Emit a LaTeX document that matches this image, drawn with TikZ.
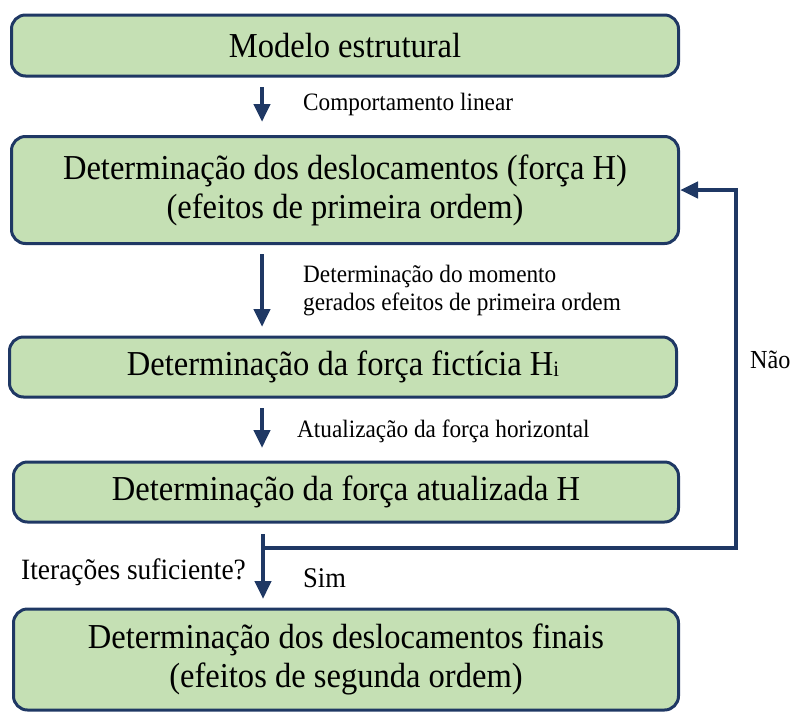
\documentclass[tikz,border=0pt]{standalone}
\usepackage{fontspec}
\setmainfont{Liberation Serif}[FakeStretch=0.93]
\usetikzlibrary{arrows.meta}
\definecolor{boxfill}{HTML}{C5E0B4}
\definecolor{navy}{HTML}{1F3864}
\tikzset{
  stepbox/.style={draw=navy, line width=3pt, fill=boxfill, rounded corners=14pt,
    align=center, inner sep=0pt, font=\fontsize{35}{39}\selectfont},
  arr/.style={draw=navy, line width=4.5pt, -{Triangle[width=16pt,length=18pt]}},
  lbl/.style={anchor=west, inner sep=0pt, font=\fontsize{25}{28}\selectfont, align=left},
}
\begin{document}
\begin{tikzpicture}[x=1pt,y=-1pt]
\useasboundingbox (0,0) rectangle (796,713);
\node[stepbox, minimum width=667pt, minimum height=61pt] (b1) at (345,45.5) {Modelo estrutural};
\node[stepbox, minimum width=667pt, minimum height=107pt] (b2) at (345,190) {Determinação dos deslocamentos (força H)\\(efeitos de primeira ordem)};
\node[stepbox, minimum width=667pt, minimum height=60pt] (b3) at (343,367) {Determinação da força fictícia H\raisebox{-1pt}{\fontsize{22}{22}\selectfont i}};
\node[stepbox, minimum width=665pt, minimum height=60pt] (b4) at (346,492) {Determinação da força atualizada H};
\node[stepbox, minimum width=665pt, minimum height=101pt] (b5) at (346,659.5) {Determinação dos deslocamentos finais\\(efeitos de segunda ordem)};

\coordinate (a1s) at (262,87);
\coordinate (a1e) at (262,122);
\coordinate (a2s) at (262,254);
\coordinate (a2e) at (262,327);
\coordinate (a3s) at (262,408);
\coordinate (a3e) at (262,448);
\coordinate (a4s) at (263,534);
\coordinate (a4e) at (263,599);
\coordinate (fbs) at (263,548);
\coordinate (fbc1) at (736,548);
\coordinate (fbc2) at (736,190);

\draw[arr] (a1s) -- (a1e);
\draw[arr] (a2s) -- (a2e);
\draw[arr] (a3s) -- (a3e);
\draw[arr] (a4s) -- (a4e);
\draw[arr] (fbs) -- (fbc1) -- (fbc2) -- (b2.east |- fbc2);

\node[lbl] (l1) at (303,104) {Comportamento linear};
\node[lbl] (l2) at (303,291) {Determinação do momento\\gerados efeitos de primeira ordem};
\node[lbl] (l3) at (297,431) {Atualização da força horizontal};
\node[lbl, font=\fontsize{29.5}{32}\selectfont] (l4) at (21,572) {Iterações suficiente?};
\node[lbl, font=\fontsize{28.5}{32}\selectfont] (l5) at (303,578) {Sim};
\node[lbl, font=\fontsize{26}{30}\selectfont] (l6) at (750,360) {Não};
\end{tikzpicture}
\end{document}
